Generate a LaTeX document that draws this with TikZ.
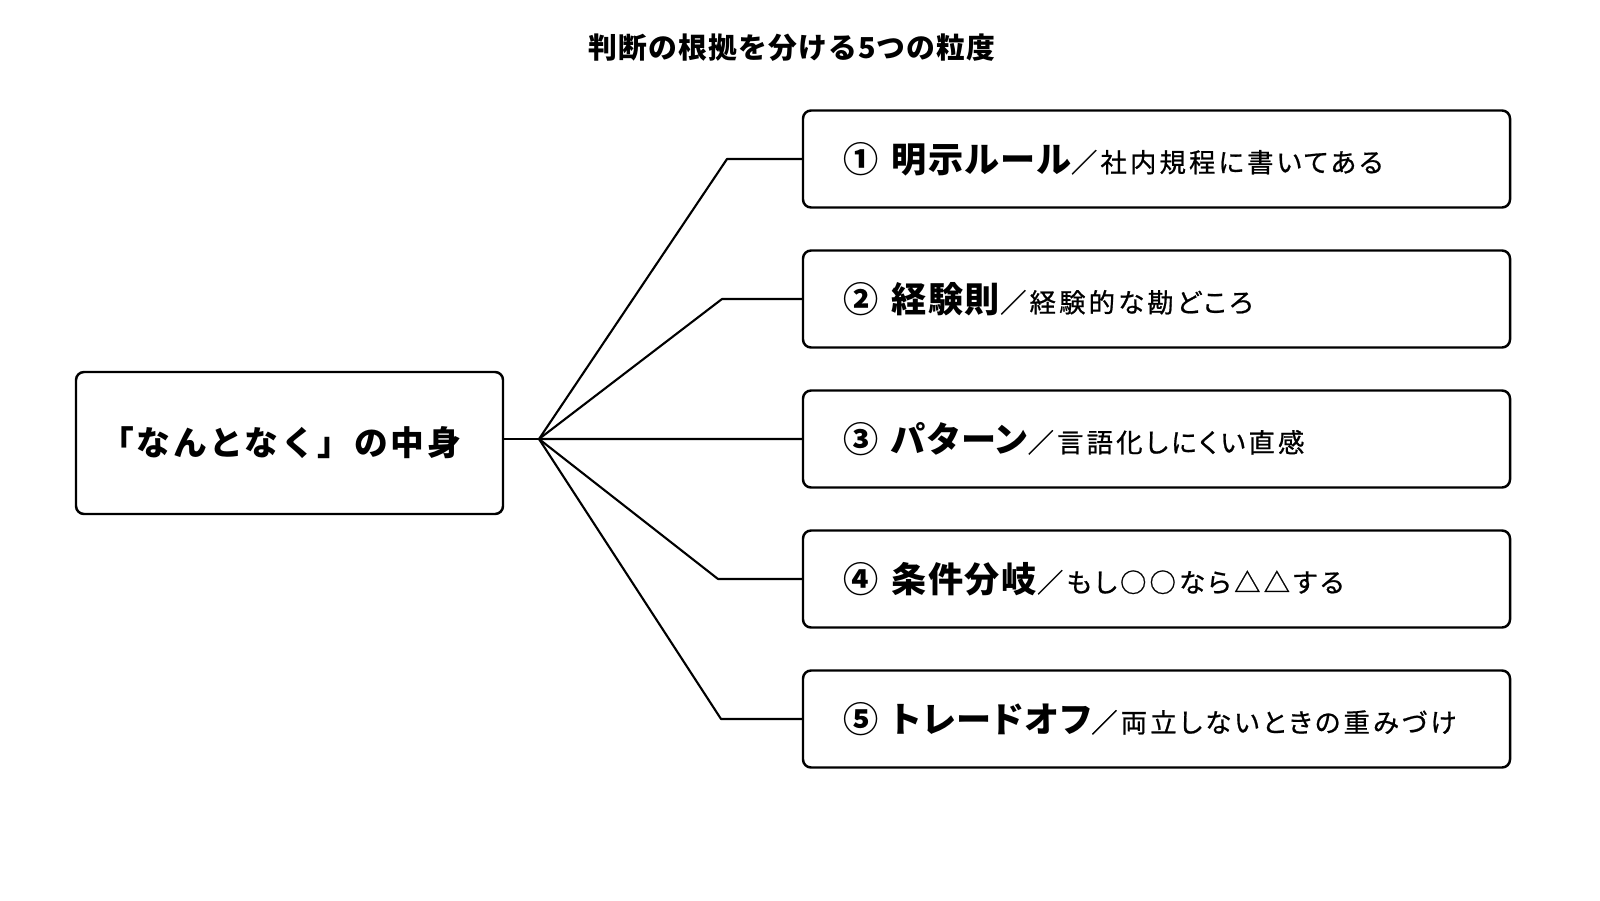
\documentclass[tikz,border=0pt]{standalone}
\usepackage{fontspec}
\setmainfont{Noto Sans CJK JP}
\newcommand\titlefont{\fontsize{8.2}{9}\selectfont\bfseries\addfontfeature{LetterSpace=4}}
\newcommand\rootfont{\fontsize{9.6}{11}\selectfont\bfseries\addfontfeature{LetterSpace=8}}
\newcommand\headfont{\fontsize{10}{12}\selectfont\bfseries\addfontfeature{LetterSpace=5,RawFeature=+palt}}
\newcommand\notefont{\fontsize{7.5}{9}\selectfont\mdseries\addfontfeature{LetterSpace=12,FakeBold=0.8,RawFeature=+palt}}
\begin{document}
\begin{tikzpicture}[
    box/.style={draw, line width=0.7pt, rounded corners=0.8mm},
    item/.style={box, minimum height=0.97cm, text width=6.27cm,
      inner xsep=0.4cm, align=left, font=\headfont},
    link/.style={line width=0.6pt, line join=round}
  ]
    \useasboundingbox (0,0) rectangle (16,9);
    \node[font=\titlefont] (title) at (7.92,8.52) {判断の根拠を分ける5つの粒度};
    \node[box, minimum width=4.27cm, minimum height=1.42cm, font=\rootfont]
      (root) at (2.895,4.57) {「なんとなく」の中身\hspace*{0.18cm}};
    \coordinate (hub) at (5.39,4.61);
    \draw[link] (hub -| root.east) -- (hub);
    % five kinds of grounds, each hooked to the hub with an elbow
    \foreach \k/\ex/\cnum/\headtext/\notetext in {
        1/7.27/①/明示ルール/社内規程に書いてある,
        2/7.22/②/経験則/経験的な勘どころ,
        3/7.20/③/パターン/言語化しにくい直感,
        4/7.18/④/条件分岐/もし○○なら△△する,
        5/7.21/⑤/トレードオフ/両立しないときの重みづけ} {
      \node[item] (r\k) at (11.565,{8.81-1.4*\k})
        {\mbox{\cnum\hspace{0.13cm}\headtext{\notefont ／\notetext}}};
      \coordinate (e\k) at (\ex,{8.81-1.4*\k});
      \draw[link] (hub) -- (e\k) -- (r\k.west);
    }
\end{tikzpicture}
\end{document}
